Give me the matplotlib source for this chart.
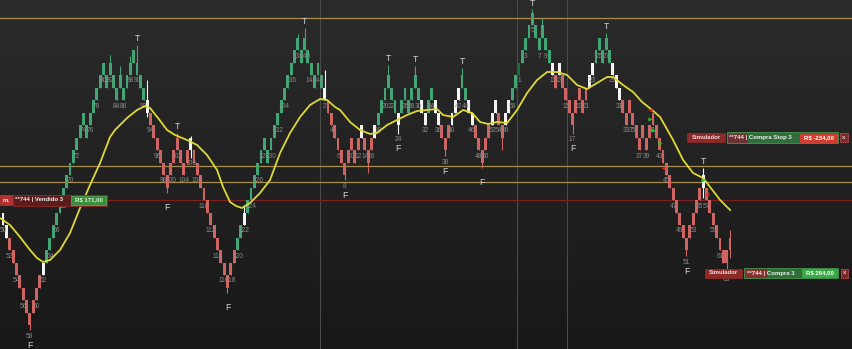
import matplotlib
matplotlib.use('Agg')
import matplotlib.pyplot as plt
import numpy as np
from matplotlib.patches import Rectangle
from matplotlib.colors import LinearSegmentedColormap

# ---------------- data (price in brick units) ----------------
levels = [8, 7, 6, 5, 4, 3, 2, 1, 0, 1,
          2, 3, 4, 5, 6, 7, 8, 9, 10, 11,
          12, 13, 14, 15, 16, 15, 16, 17, 18, 19,
          20, 19, 20, 19, 18, 19, 18, 19, 20, 21,
          20, 19, 18, 17, 16, 15, 14, 13, 12, 11,
          12, 13, 14, 13, 12, 13, 14, 13, 12, 11,
          10, 9, 8, 7, 6, 5, 4, 3, 4, 5,
          6, 7, 8, 9, 10, 11, 12, 13, 14, 13,
          14, 15, 16, 17, 18, 19, 20, 21, 22, 21,
          22, 21, 20, 19, 20, 19, 18, 17, 16, 15,
          14, 13, 12, 13, 14, 13, 14, 15, 14, 13,
          14, 15, 16, 17, 18, 19, 18, 17, 16, 17,
          18, 17, 18, 19, 18, 17, 16, 17, 18, 17,
          16, 15, 14, 15, 16, 17, 18, 19, 18, 17,
          16, 15, 14, 13, 14, 15, 16, 17, 16, 15,
          16, 17, 18, 19, 20, 21, 22, 23, 24, 23,
          22, 23, 22, 21, 20, 19, 20, 19, 18, 17,
          16, 17, 18, 17, 18, 19, 20, 21, 22, 21,
          22, 21, 20, 19, 18, 17, 16, 17, 16, 15,
          14, 15, 14, 15, 16, 15, 14, 13, 12, 11,
          10, 9, 8, 7, 6, 7, 8, 9, 10, 11,
          10, 9, 8, 7, 6, 5, 5, 6]

bar_colors = ("wwrrrrrrrr" "rrwggggggg" "gggggggggg" "gggggggggg"
              "gggwrrrrrr" "rrrrrrwrrr" "rrrrrrrrrr" "ggwggggggg"
              "gggggggggg" "ggggggwrrr" "rrrrrrrwrr" "rwggggggwg"
              "gggggwwggw" "wrrrwwwggw" "wrrrrrwwrr" "wwggdggggg"
              "ggggwrwrrr" "rrrrrwwggg" "ggwwwrrrrr" "rrrrrrrrrr"
              "rrrrrrrrrw" "rrrrrrrr")

wick_high = {32: 21.6, 35: 20.7, 38: 21.5, 39: 22.0, 40: 22.4, 43: 19.6,
             52: 15.4, 56: 15.1, 72: 9.6, 88: 23.3, 90: 23.8, 96: 20.4,
             115: 20.8, 123: 20.7, 137: 20.6, 158: 25.25, 161: 24.6,
             180: 23.4, 209: 12.6, 217: 7.6}
wick_low = {8: -0.4, 43: 16.6, 49: 10.6, 56: 13.4, 67: 2.6, 102: 11.6,
            109: 12.2, 118: 15.3, 132: 13.5, 143: 12.6, 149: 14.0,
            170: 15.3, 204: 5.5, 209: 10.2, 216: 4.1, 217: 5.4}

top_bars = [40, 52, 90, 115, 123, 137, 158, 180, 209]
bottom_bars = [8, 49, 67, 102, 118, 132, 143, 170, 204]

ma_x = [-0.9, 2.09, 5.07, 8.06, 10.15, 11.94, 14.03, 17.01, 20.0, 22.99,
        25.97, 28.96, 31.94, 33.43, 37.01, 40.0, 42.39, 43.88, 46.27, 48.96,
        51.34, 54.93, 57.91, 60.9, 63.88, 65.67, 67.76, 69.55, 71.34, 73.73,
        76.72, 79.7, 82.69, 85.67, 88.66, 91.64, 94.63, 96.72, 99.1, 100.6,
        103.58, 106.57, 109.55, 111.64, 114.63, 117.61, 120.6, 123.58, 126.57, 129.55,
        131.34, 134.33, 137.31, 140.0, 142.39, 144.78, 147.46, 150.45, 153.43, 156.42,
        159.4, 162.39, 165.37, 168.36, 171.34, 174.33, 177.31, 180.3, 182.09, 185.07,
        188.06, 190.75, 193.73, 196.12, 200.0, 202.99, 205.97, 208.96, 211.04, 214.03,
        217.01]
ma_y = [8.56, 8.0, 7.04, 6.0, 5.36, 5.04, 5.2, 6.0, 7.36, 9.36,
        11.2, 12.96, 15.04, 15.6, 16.56, 17.2, 17.52, 17.36, 16.56, 15.6,
        15.2, 14.8, 14.4, 13.6, 12.4, 11.04, 9.84, 9.52, 9.36, 9.76,
        10.56, 11.6, 13.76, 15.36, 16.64, 17.6, 18.08, 18.0, 17.44, 17.2,
        16.24, 15.6, 15.28, 15.36, 16.0, 16.4, 16.8, 17.12, 17.2, 17.28,
        16.8, 16.64, 17.2, 16.96, 16.24, 16.08, 16.24, 16.16, 17.2, 18.56,
        19.6, 20.24, 20.24, 20.0, 19.2, 18.88, 19.36, 19.84, 19.84, 19.2,
        18.64, 17.84, 17.2, 16.64, 14.8, 13.2, 12.16, 11.76, 11.04, 10.0,
        9.2]

gold_levels = [24.56, 12.72, 11.44]
red_level = 10.0
separators = [94.5, 153.5, 168.2]
day_start = [0, 95, 154]
day_first = [50, 1, 1]
day_parity = [0, 0, 1]

buy_marks = [(193, 16.5), (194, 15.6), (196, 14.6), (209, 11.6)]
sell_marks = [(193, 17.2), (197, 12.6), (210, 10.5)]

# ---------------- figure ----------------
W, H = 853, 349
fig = plt.figure(figsize=(W / 100, H / 100), dpi=100)
ax = fig.add_axes([0, 0, 1, 1])
XL = (-0.9, 253.7)
YL = (-1.92, 26.0)
ax.set_xlim(*XL)
ax.set_ylim(*YL)
ax.axis('off')

cmap = LinearSegmentedColormap.from_list('bg', ['#181818', '#2b2b2b'])
grad = np.linspace(0, 1, 256).reshape(-1, 1)
ax.imshow(grad, extent=[XL[0], XL[1], YL[0], YL[1]], origin='lower',
          aspect='auto', cmap=cmap, zorder=0)

for s in separators:
    ax.axvline(s, color='#4a4a4a', lw=0.8, zorder=1)
for g in gold_levels:
    ax.axhline(g, color='#a8904a', lw=0.9, zorder=1)
ax.axhline(red_level, color='#7e1f1f', lw=0.9, zorder=1)

cmap_bar = {'g': '#43a573', 'r': '#cf6563', 'w': '#f4f4f4', 'd': '#1f6e3c'}
n = len(levels)
xs = np.arange(n)
cols = [cmap_bar[c] for c in bar_colors]
lv = np.array(levels, dtype=float)
highs = np.array([wick_high.get(i, lv[i] + 1) for i in range(n)])
lows = np.array([wick_low.get(i, lv[i]) for i in range(n)])

ax.vlines(xs, lows, highs, colors=cols, lw=0.8, zorder=2)
ax.bar(xs, 1.0, bottom=lv, width=0.86, color=cols, linewidth=0, zorder=3)

ax.plot(ma_x, ma_y, color='#dcd835', lw=1.3, solid_joinstyle='round', zorder=5)

# counters
fam = ['Liberation Sans', 'DejaVu Sans']
for d in range(len(day_start)):
    end = day_start[d + 1] if d + 1 < len(day_start) else n
    for i in range(day_start[d], end):
        cnt = day_first[d] + i - day_start[d]
        if cnt % 2 == day_parity[d]:
            ax.text(i, lows[i] - 0.2, str(cnt), color='#8a8a8a', fontsize=4.8,
                    ha='center', va='top', family=fam, zorder=4)

for i in top_bars:
    ax.text(i, highs[i] + 0.15, 'T', color='#d4d4d4', fontsize=6.3,
            ha='center', va='bottom', family=fam, zorder=6)
for i in bottom_bars:
    ax.text(i, lows[i] - 0.85, 'F', color='#d4d4d4', fontsize=6.3,
            ha='center', va='top', family=fam, zorder=6)

for (i, v) in buy_marks:
    ax.plot(i, v, marker='>', color='#22cc22', ms=3, mew=0, zorder=6)
for (i, v) in sell_marks:
    ax.plot(i, v, marker='<', color='#e02020', ms=3, mew=0, zorder=6)


# ---------------- order boxes (pixel layout) ----------------
def pbox(x0, y0, x1, y1, fc, ec=None, lw=0.6):
    fig.patches.append(Rectangle((x0 / W, 1 - y1 / H), (x1 - x0) / W, (y1 - y0) / H,
                                 transform=fig.transFigure, facecolor=fc,
                                 edgecolor=ec or fc, linewidth=lw, zorder=10))


def ptext(x, y, s, color, fs=4.3, ha='center'):
    fig.text(x / W, 1 - y / H, s, color=color, fontsize=fs, ha=ha, va='center',
             fontweight='bold', family=fam, zorder=11)


# left: sold position
pbox(0, 195, 12, 205, '#b03232')
ptext(6, 200, 'm.', '#f0e0e0')
pbox(13, 194.5, 107, 205.5, '#5c1c1c', '#8c2c2c')
ptext(15.5, 200, '**744 | Vendido 3', '#f0f0f0', ha='left')
pbox(71, 195.5, 106, 204.5, '#3b8c3b', '#55a655')
ptext(88.5, 200, 'R$ 171,00', '#d6f5d6')

# right top: stop order
pbox(687, 133, 725, 142, '#8c2a2a')
ptext(706, 137.5, 'Simulador', '#f2d8d8')
pbox(727, 132.5, 838.5, 142.5, '#2f6e3a', '#44954f')
pbox(728, 133.5, 747, 141.5, '#6e3030')
ptext(729.5, 137.5, '**744 | Compra Stop 3', '#f0f0f0', ha='left')
pbox(800, 133.5, 837.5, 141.5, '#d83a2e')
ptext(818.7, 137.5, 'R$ -234,00', '#ffffff')
pbox(840, 133, 848, 142, '#7e2a2a', '#a84a4a')
ptext(844, 137.5, 'x', '#e8c8c8')

# right bottom: buy order
pbox(705, 268.5, 742, 277.5, '#8c2a2a')
ptext(723.5, 273, 'Simulador', '#f2d8d8')
pbox(744, 268, 838.5, 278, '#2f6e3a', '#44954f')
pbox(745, 269, 766, 277, '#8a2d2d')
ptext(747, 273, '**744 | Compra 3', '#f0f0f0', ha='left')
pbox(802, 269, 837.5, 277, '#3daa48')
ptext(819.7, 273, 'R$ 264,00', '#f0fff0')
pbox(841, 268.5, 848, 277.5, '#7e2a2a', '#a84a4a')
ptext(844.5, 273, 'x', '#e8c8c8')

fig.savefig('out.png', dpi=100, facecolor='#1e1e1e')
